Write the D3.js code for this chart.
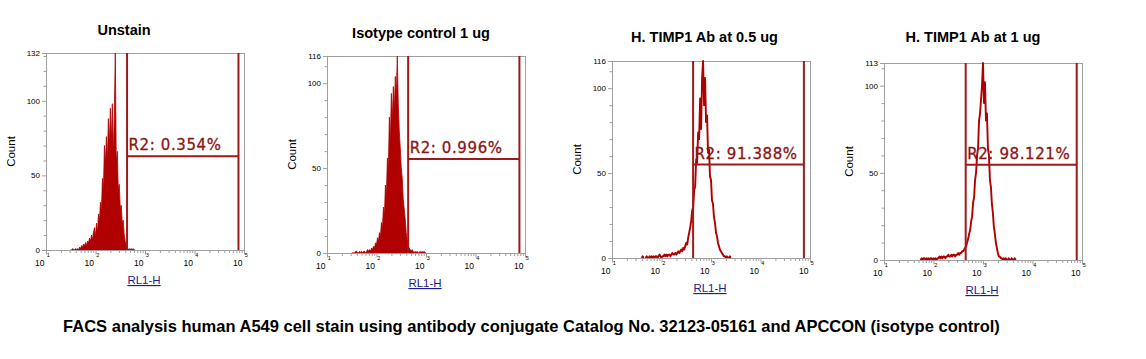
<!DOCTYPE html>
<html><head><meta charset="utf-8">
<script src="https://cdn.jsdelivr.net/npm/d3@7"></script>
<style>body{margin:0;background:#fff}</style>
</head><body><svg id="chart" width="1146" height="359"></svg>
<script>
// ---------------- data ----------------
const titles = ["Unstain", "Isotype control 1 ug", "H. TIMP1 Ab at 0.5 ug", "H. TIMP1 Ab at 1 ug"];
const yMax = [132, 116, 116, 113];
const yMajorTicks = [0, 50, 100];
const xTickExponents = [1, 2, 3, 4, 5];
const xLabel = "RL1-H";
const yLabel = "Count";
const gateName = "R2";
const gatePercent = ["0.354%", "0.996%", "91.388%", "98.121%"];
const gateLow = [434, 436, 435, 447];
const gateHigh = [77300, 77100, 75300, 78200];
const gateLevel = [62.8, 55.3, 55.0, 54.6];
const caption = "FACS analysis human A549 cell stain using antibody conjugate Catalog No. 32123-05161 and APCCON (isotype control)";

// histogram channels: log10 of first channel, channel width in log10 units
const binStartLog = [1.50, 1.50, 1.60, 1.70];
const binStepLog = 0.02;
const counts1 = [0,0,1,0,0,1,0,1,0,2,
  1,3,2,4,3,5,3,6,5,8,
  6,10,7,12,15,9,18,12,24,20,
  32,26,48,40,70,58,76,60,88,70,
  95,72,98,64,90,132,58,66,40,44,
  28,30,18,20,10,6,3,1,0,1,
  0,1,0,1,0,0];
const counts2 = [0,0,0,0,1,1,0,0,1,0,
  1,0,1,1,0,1,2,1,2,1,
  3,2,4,3,6,5,9,7,12,10,
  18,15,27,22,40,34,56,50,80,66,
  94,78,98,84,104,92,116,88,72,62,
  50,44,32,26,20,12,8,4,3,2,
  1,2,1,0,1,0,1,0,0,1,
  0,1,0,1,0,0];
const counts3 = [0,1,0,0,0,1,0,0,1,0,
  1,0,1,0,1,1,0,1,2,1,
  0,1,1,2,1,2,1,2,2,1,
  2,3,2,2,3,2,3,4,3,4,
  5,4,6,5,7,9,8,12,15,18,
  22,28,30,40,42,58,56,74,70,94,
  76,106,116,90,106,80,84,62,64,48,
  46,34,32,24,21,15,13,9,7,5,
  4,3,2,1,1,0,1,0,0,1,
  0];
const counts4 = [0,0,0,1,0,1,1,0,1,0,
  1,0,1,1,0,1,0,1,0,1,
  1,2,1,2,1,2,2,1,2,2,
  3,2,2,3,2,3,3,2,3,3,
  4,3,4,4,5,5,6,7,8,10,
  12,15,17,22,25,33,36,46,50,60,
  64,80,84,92,100,113,90,102,80,84,
  64,60,46,42,32,27,19,15,10,7,
  4,2,2,1,1,0,1,0,1,0,
  0,1,0,0,1,0,0,1,0,0,
  0];
const allCounts = [counts1, counts2, counts3, counts4];

// ---------------- layout ----------------
const W = 198, H = 197;
const panelLeft = [46, 327, 612, 884];
const panelTop = [53, 56, 61, 63];
const titlePos = [[124, 34.5], [421, 38], [704.5, 42], [973, 42]];
const histMode = ["area", "area", "line", "line"];
const RED = "#b00000", GATE = "#9e1a1a", GATE_TEXT = "#8c1414", AXIS = "#a0a0a0";

const svg = d3.select("#chart");
svg.append("rect").attr("width", 1146).attr("height", 359).attr("fill", "#fff");

titles.forEach((t, p) => {
  const g = svg.append("g").attr("transform", `translate(${panelLeft[p]},${panelTop[p]})`);
  const x = d3.scaleLog().domain([10, 100000]).range([0, W]);
  const y = d3.scaleLinear().domain([0, yMax[p]]).range([H, 0]);

  // frame
  g.append("rect").attr("x", 0).attr("y", 0).attr("width", W).attr("height", H)
    .attr("fill", "none").attr("stroke", AXIS).attr("stroke-width", 1).attr("shape-rendering", "crispEdges");

  // y axis
  const yMinor = d3.range(10, yMax[p], 10).filter(v => v % 50 !== 0);
  const yMinG = g.append("g").call(d3.axisLeft(y).tickValues(yMinor).tickSize(2.5).tickSizeOuter(0).tickFormat(""));
  const yMajG = g.append("g").call(d3.axisLeft(y).tickValues(yMajorTicks.concat([yMax[p]])).tickSize(4).tickSizeOuter(0).tickPadding(2));
  [yMinG, yMajG].forEach(a => {
    a.select(".domain").attr("stroke", AXIS);
    a.selectAll(".tick line").attr("stroke", AXIS);
    a.selectAll("text").attr("font-family", "Liberation Sans, Arial, sans-serif").attr("font-size", 8).attr("fill", "#000");
  });

  // x axis
  const decades = xTickExponents.map(e => Math.pow(10, e));
  const xMinor = [];
  decades.slice(0, -1).forEach(d => { for (let k = 2; k <= 9; k++) xMinor.push(d * k); });
  const xMinG = g.append("g").attr("transform", `translate(0,${H})`)
    .call(d3.axisBottom(x).tickValues(xMinor).tickSize(3).tickSizeOuter(0).tickFormat(""));
  const xMajG = g.append("g").attr("transform", `translate(0,${H})`)
    .call(d3.axisBottom(x).tickValues(decades).tickSize(4.5).tickSizeOuter(0).tickFormat(""));
  [xMinG, xMajG].forEach(a => {
    a.select(".domain").attr("stroke", AXIS);
    a.selectAll(".tick line").attr("stroke", AXIS);
  });
  xTickExponents.forEach((e, i) => {
    const tx = x(decades[i]);
    g.append("text").attr("x", tx - 1.5).attr("y", H + 15.7).attr("text-anchor", "end")
      .attr("font-family", "Liberation Sans, Arial, sans-serif").attr("font-size", 8.5).text("10");
    g.append("text").attr("x", tx + 0.8).attr("y", H + 7).attr("text-anchor", "start")
      .attr("font-family", "Liberation Sans, Arial, sans-serif").attr("font-size", 5.5).text(String(e));
  });

  // histogram
  const counts = allCounts[p];
  const pts = counts.map((c, i) => ({ v: Math.pow(10, binStartLog[p] + i * binStepLog), c: c, i: i }));
  const clip = "clip" + p;
  g.append("clipPath").attr("id", clip).append("rect").attr("x", 0).attr("y", -1).attr("width", W).attr("height", H + 1);
  const hg = g.append("g").attr("clip-path", `url(#${clip})`);
  if (histMode[p] === "area") {
    hg.append("path").datum(pts)
      .attr("d", d3.area().x(d => x(d.v)).y0(y(0)).y1(d => y(d.c)))
      .attr("fill", RED).attr("stroke", RED).attr("stroke-width", 0.8);
  } else {
    const defined = d => d.c > 0 || (counts[d.i - 1] || 0) > 0 || (counts[d.i + 1] || 0) > 0;
    hg.append("path").datum(pts)
      .attr("d", d3.line().defined(defined).x(d => x(d.v)).y(d => y(d.c)))
      .attr("fill", "none").attr("stroke", RED).attr("stroke-width", 1.9).attr("stroke-linejoin", "round");
  }

  // gate R2
  const gx0 = x(gateLow[p]), gx1 = x(gateHigh[p]), gy = y(gateLevel[p]);
  g.append("line").attr("x1", gx0).attr("x2", gx0).attr("y1", 0).attr("y2", H).attr("stroke", GATE).attr("stroke-width", 2);
  g.append("line").attr("x1", gx1).attr("x2", gx1).attr("y1", 0).attr("y2", H).attr("stroke", GATE).attr("stroke-width", 2);
  g.append("line").attr("x1", gx0).attr("x2", gx1).attr("y1", gy).attr("y2", gy).attr("stroke", GATE).attr("stroke-width", 2);
  g.append("text").attr("x", gx0 + 1.5).attr("y", gy - 6)
    .attr("font-family", "DejaVu Sans, Verdana, sans-serif").attr("font-size", 15).attr("letter-spacing", 0.6)
    .attr("fill", GATE_TEXT).attr("stroke", GATE_TEXT).attr("stroke-width", 0.3).text(`${gateName}: ${gatePercent[p]}`);

  // axis labels
  g.append("text").attr("transform", `translate(-34,${H / 2}) rotate(-90)`).attr("text-anchor", "middle")
    .attr("dominant-baseline", "middle")
    .attr("font-family", "Liberation Sans, Arial, sans-serif").attr("font-size", 11.5).attr("fill", "#000").text(yLabel);
  g.append("text").attr("x", W / 2 - 1).attr("y", H + 34).attr("text-anchor", "middle")
    .attr("font-family", "Liberation Sans, Arial, sans-serif").attr("font-size", 11.5).attr("fill", "#1c1c8c")
    .attr("text-decoration", "underline").text(xLabel);

  // title
  svg.append("text").attr("x", titlePos[p][0]).attr("y", titlePos[p][1]).attr("text-anchor", "middle")
    .attr("font-family", "Liberation Sans, Arial, sans-serif").attr("font-weight", "bold").attr("font-size", 14.5)
    .attr("fill", "#000").text(t);
});

svg.append("text").attr("x", 531.5).attr("y", 332).attr("text-anchor", "middle")
  .attr("font-family", "Liberation Sans, Arial, sans-serif").attr("font-weight", "bold").attr("font-size", 16.5)
  .attr("fill", "#000").text(caption);
</script></body></html>
